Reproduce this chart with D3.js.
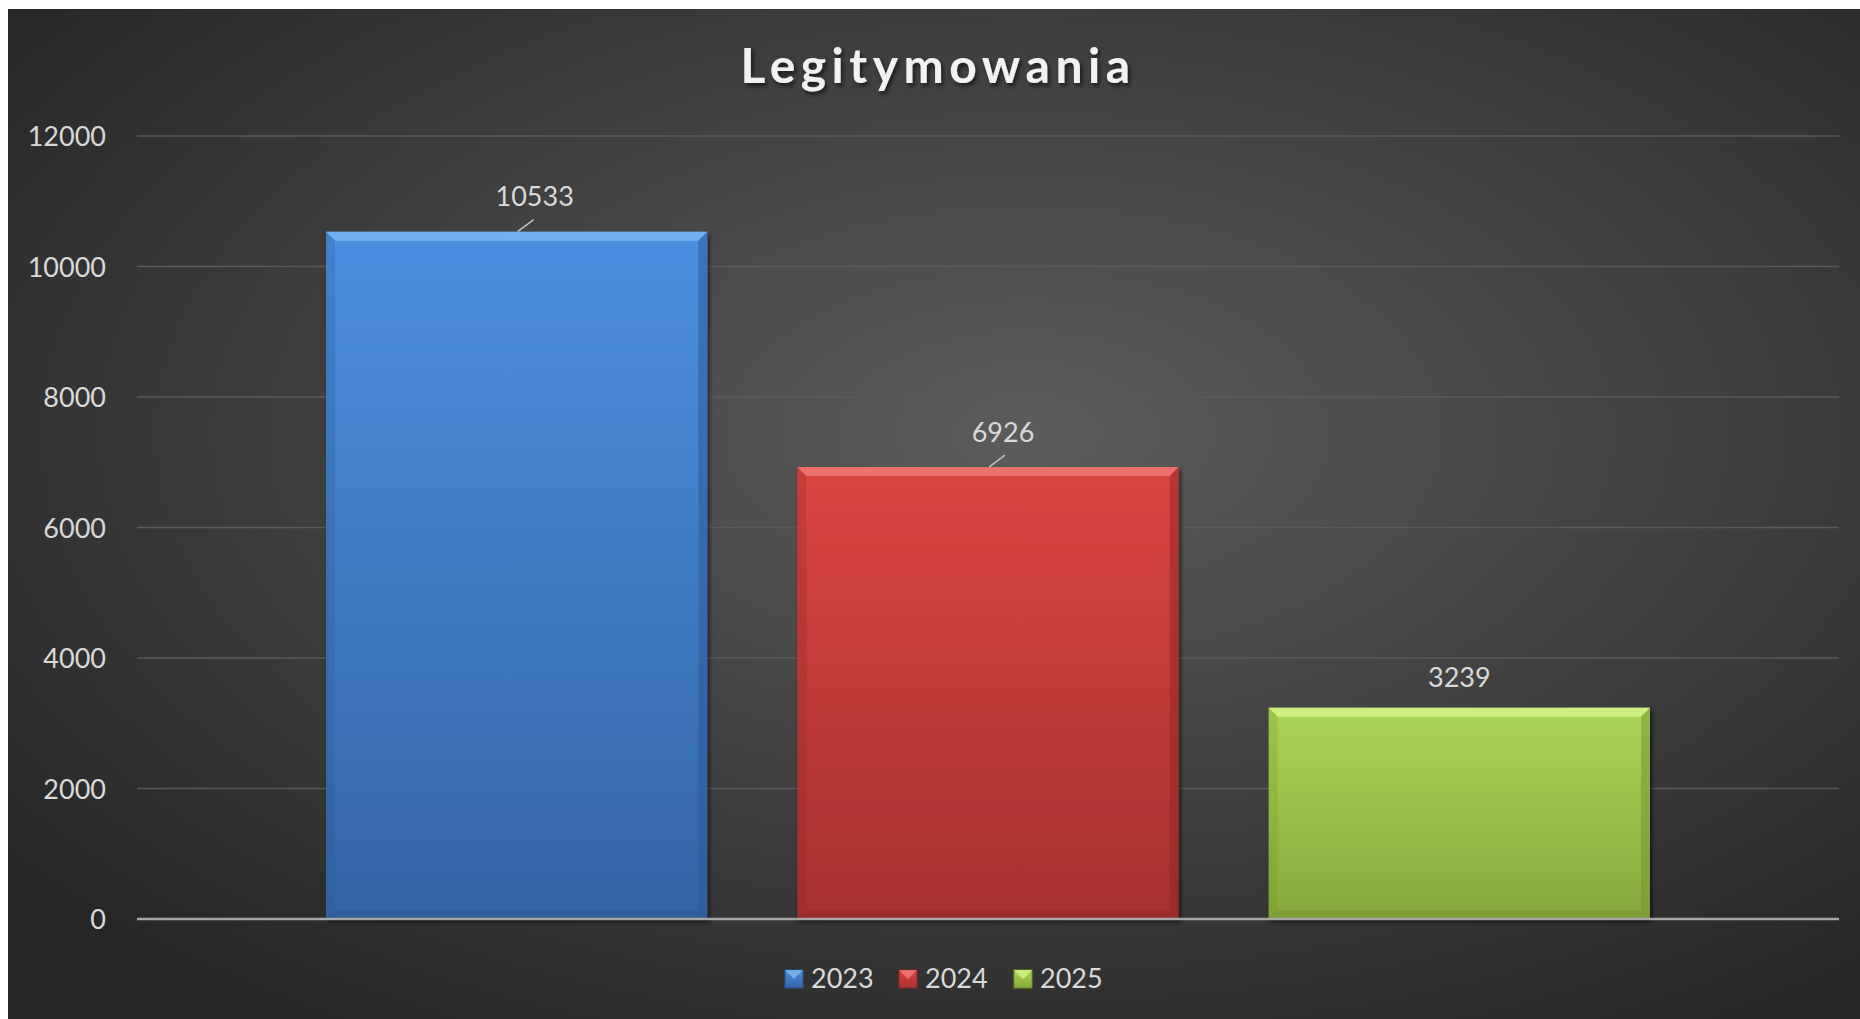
<!DOCTYPE html>
<html>
<head>
<meta charset="utf-8">
<script src="https://cdn.jsdelivr.net/npm/d3@7"></script>
<style>
body { margin: 0; background: #fff; }
svg { display: block; }
</style>
</head>
<body>
<svg id="chart" width="1860" height="1019"></svg>
<script>
var title = "Legitymowania";
var series = ["2023", "2024", "2025"];
var values = [10533, 6926, 3239];
var yTicks = [0, 2000, 4000, 6000, 8000, 10000, 12000];
var colors = [
    {top: "#4b8fe0", bottom: "#3465a6", light: "#7fb6f2", dark: "#2a5590"},
    {top: "#db4541", bottom: "#a53130", light: "#f07a76", dark: "#8a2424"},
    {top: "#aad656", bottom: "#86a93c", light: "#d4f58a", dark: "#6e8e2c"}
];

var svg = d3.select("#chart");
var defs = svg.append("defs");

var bg = defs.append("radialGradient")
    .attr("id", "bg")
    .attr("cx", "55%").attr("cy", "42%").attr("r", "70%");
bg.append("stop").attr("offset", "0%").attr("stop-color", "#5c5c5c");
bg.append("stop").attr("offset", "100%").attr("stop-color", "#262626");

colors.forEach(function(c, i) {
    var g = defs.append("linearGradient")
        .attr("id", "bar" + i)
        .attr("x1", 0).attr("y1", 0).attr("x2", 0).attr("y2", 1);
    g.append("stop").attr("offset", "0%").attr("stop-color", c.top);
    g.append("stop").attr("offset", "100%").attr("stop-color", c.bottom);
});

var shadow = defs.append("filter").attr("id", "shadow")
    .attr("x", "-10%").attr("y", "-10%").attr("width", "130%").attr("height", "140%");
shadow.append("feDropShadow")
    .attr("dx", 2).attr("dy", 3).attr("stdDeviation", 2)
    .attr("flood-color", "#000").attr("flood-opacity", 0.6);

// chart area
svg.append("rect")
    .attr("x", 8).attr("y", 9)
    .attr("width", 1852).attr("height", 1010)
    .attr("fill", "url(#bg)");

var plotLeft = 137, plotRight = 1839, plotTop = 136, plotBottom = 919;

var y = d3.scaleLinear().domain([0, 12000]).range([plotBottom, plotTop]);
var x = d3.scaleBand().domain(series)
    .range([plotLeft + 189, plotRight - 189])
    .paddingInner(0.191);

// gridlines
svg.selectAll(".grid")
    .data(yTicks.filter(function(d) { return d > 0; }))
    .enter().append("line")
    .attr("class", "grid")
    .attr("x1", plotLeft).attr("x2", plotRight)
    .attr("y1", function(d) { return y(d); })
    .attr("y2", function(d) { return y(d); })
    .attr("stroke", "#5a5a5a")
    .attr("stroke-width", 1.5);

// y axis labels
var yAxis = d3.axisLeft(y).tickValues(yTicks).tickFormat(d3.format("d")).tickSize(0).tickPadding(31);
var ya = svg.append("g")
    .attr("transform", "translate(" + plotLeft + ",0)")
    .call(yAxis);
ya.select(".domain").remove();
ya.selectAll("text")
    .attr("fill", "#d9d9d9")
    .style("font-family", "Lato")
    .style("font-size", "27px")
    .attr("dy", "0.36em");

// bars with bevel
var bev = 9;
var bars = svg.selectAll(".bar")
    .data(values)
    .enter().append("g")
    .attr("class", "bar");

bars.append("rect")
    .attr("x", function(d, i) { return x(series[i]); })
    .attr("y", function(d) { return y(d); })
    .attr("width", x.bandwidth())
    .attr("height", function(d) { return plotBottom - y(d); })
    .attr("fill", function(d, i) { return "url(#bar" + i + ")"; })
    .attr("filter", "url(#shadow)");

bars.append("polygon")
    .attr("points", function(d, i) {
        var x0 = x(series[i]), x1 = x0 + x.bandwidth(), y0 = y(d);
        return [[x0, y0], [x1, y0], [x1 - bev, y0 + bev], [x0 + bev, y0 + bev]].join(" ");
    })
    .attr("fill", function(d, i) { return colors[i].light; })
    .attr("opacity", 0.8);

bars.append("polygon")
    .attr("points", function(d, i) {
        var x0 = x(series[i]), y0 = y(d);
        return [[x0, y0], [x0 + bev, y0 + bev], [x0 + bev, plotBottom - bev], [x0, plotBottom]].join(" ");
    })
    .attr("fill", function(d, i) { return colors[i].dark; })
    .attr("opacity", 0.25);

bars.append("polygon")
    .attr("points", function(d, i) {
        var x1 = x(series[i]) + x.bandwidth(), y0 = y(d);
        return [[x1, y0], [x1 - bev, y0 + bev], [x1 - bev, plotBottom - bev], [x1, plotBottom]].join(" ");
    })
    .attr("fill", function(d, i) { return colors[i].dark; })
    .attr("opacity", 0.45);

bars.append("polygon")
    .attr("points", function(d, i) {
        var x0 = x(series[i]), x1 = x0 + x.bandwidth();
        return [[x0, plotBottom], [x0 + bev, plotBottom - bev], [x1 - bev, plotBottom - bev], [x1, plotBottom]].join(" ");
    })
    .attr("fill", function(d, i) { return colors[i].dark; })
    .attr("opacity", 0.4);

// data labels (first two have leader lines)
var labelOff = [[18, -26], [15, -25], [0, -21]];

bars.filter(function(d, i) { return i < 2; })
    .append("line")
    .attr("x1", function(d, i) { return x(series[i]) + x.bandwidth() / 2 + 1; })
    .attr("y1", function(d) { return y(d); })
    .attr("x2", function(d, i) { return x(series[i]) + x.bandwidth() / 2 + 17; })
    .attr("y2", function(d) { return y(d) - 12; })
    .attr("stroke", "#bfbfbf")
    .attr("stroke-width", 1.5);

bars.append("text")
    .attr("x", function(d, i) { return x(series[i]) + x.bandwidth() / 2 + labelOff[i][0]; })
    .attr("y", function(d, i) { return y(d) + labelOff[i][1]; })
    .attr("text-anchor", "middle")
    .attr("fill", "#d9d9d9")
    .style("font-family", "Lato")
    .style("font-size", "27px")
    .text(function(d) { return d; });

// zero axis line
svg.append("line")
    .attr("x1", plotLeft).attr("x2", plotRight)
    .attr("y1", plotBottom).attr("y2", plotBottom)
    .attr("stroke", "#a6a6a6")
    .attr("stroke-width", 2.5);

// title
svg.append("text")
    .attr("x", 938).attr("y", 83)
    .attr("text-anchor", "middle")
    .attr("fill", "#f2f2f2")
    .style("font-family", "Lato")
    .style("font-weight", "bold")
    .style("font-size", "48px")
    .style("letter-spacing", "5.5px")
    .attr("filter", "url(#shadow)")
    .text(title);

// legend
var legX = [785, 899, 1014];
var leg = svg.selectAll(".leg")
    .data(series)
    .enter().append("g")
    .attr("class", "leg")
    .attr("transform", function(d, i) { return "translate(" + legX[i] + ",970)"; });

leg.append("rect")
    .attr("width", 18).attr("height", 18)
    .attr("fill", function(d, i) { return "url(#bar" + i + ")"; })
    .attr("stroke", function(d, i) { return colors[i].dark; });

leg.append("polygon")
    .attr("points", "0,0 18,0 9,9")
    .attr("fill", function(d, i) { return colors[i].light; })
    .attr("opacity", 0.8);

leg.append("text")
    .attr("x", 26).attr("y", 18)
    .attr("fill", "#d9d9d9")
    .style("font-family", "Lato")
    .style("font-size", "27px")
    .text(function(d) { return d; });
</script>
</body>
</html>
